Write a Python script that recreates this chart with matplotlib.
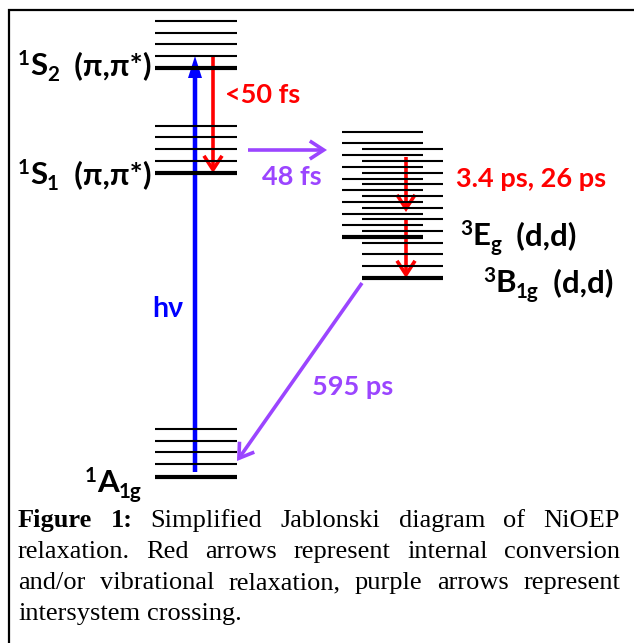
import matplotlib
matplotlib.use("Agg")
import matplotlib.pyplot as plt
from matplotlib.patches import FancyArrowPatch

# canvas in pixels (y grows downwards, like the picture)
W, H = 634, 643
SANS = ["Lato", "DejaVu Sans"]
SERIF = ["Liberation Serif", "DejaVu Serif"]
RED = "#ff0000"
BLUE = "#0000ff"
PURPLE = "#9b45ff"

# energy levels (pixel rows); the last one of each list is the bold v=0 level
S2_LEVELS = [21, 33, 44, 56, 68]
S1_LEVELS = [126, 137, 149, 161, 173]
A1G_LEVELS = [429, 441, 452, 464, 477]
EG_LEVELS = [132, 143, 155, 167, 179, 190, 202, 214, 225, 237]
B1G_LEVELS = [149, 161, 173, 184, 196, 208, 219, 231, 243, 254, 266, 278]

SINGLET_X = (155, 237)
EG_X = (342, 423)
B1G_X = (362, 443)

CAPTION_LINES = [
    "Figure 1: Simplified Jablonski diagram of NiOEP",
    "relaxation. Red arrows represent internal conversion",
    "and/or vibrational relaxation, purple arrows represent",
    "intersystem crossing.",
]
CAPTION_BOLD = 2  # "Figure 1:" is bold

fig = plt.figure(figsize=(W / 100, H / 100), dpi=100)
ax = fig.add_axes([0, 0, 1, 1])
ax.set_xlim(0, W)
ax.set_ylim(H, 0)
ax.axis("off")
renderer = fig.canvas.get_renderer()

# frame (only top and left sides are inside the picture)
ax.plot([9, 9, W], [H, 10, 10], color="black", lw=1.6, solid_joinstyle="miter")


def draw_levels(levels, xs):
    for i, y in enumerate(levels):
        bold = i == len(levels) - 1
        ax.plot(xs, [y, y], color="black", lw=3.0 if bold else 1.5, solid_capstyle="butt")


draw_levels(S2_LEVELS, SINGLET_X)
draw_levels(S1_LEVELS, SINGLET_X)
draw_levels(A1G_LEVELS, SINGLET_X)
draw_levels(EG_LEVELS, EG_X)
draw_levels(B1G_LEVELS, B1G_X)


def open_arrow(p0, p1, color, lw=2.6):
    ax.add_patch(FancyArrowPatch(p0, p1, arrowstyle="->,head_length=10,head_width=6.5",
                                 mutation_scale=1, lw=lw, color=color,
                                 shrinkA=0, shrinkB=0, capstyle="butt", joinstyle="miter"))


# excitation
ax.arrow(195, 472, 0, S2_LEVELS[-2] - 472, width=4.5, head_width=14, head_length=22,
         length_includes_head=True, color=BLUE, lw=0)
# internal conversion / vibrational relaxation
open_arrow((213, S2_LEVELS[-2]), (213, S1_LEVELS[-1]), RED)
open_arrow((406, 157), (406, 212), RED)
open_arrow((406, 220), (406, B1G_LEVELS[-1]), RED)
# intersystem crossing
open_arrow((248, 150), (327, 150), PURPLE)
open_arrow((B1G_X[0], 283), (SINGLET_X[1], 461), PURPLE)


def rich(x, y, pieces, size, color="black"):
    px = size * 100 / 72
    for txt, scale, shift in pieces:
        t = ax.text(x, y - shift * px, txt, fontsize=size * scale, fontweight="bold",
                    color=color, family=SANS, ha="left", va="baseline")
        x += t.get_window_extent(renderer).width


LS = 22.5   # state labels
TS = 19.5   # time constants
SUP, SUB = (.66, .32), (.66, -.2)
rich(18, 75, [("1", *SUP), ("S", 1, 0), ("2", *SUB), ("  (π,π*)", 1, 0)], LS)
rich(18, 184, [("1", *SUP), ("S", 1, 0), ("1", *SUB), ("  (π,π*)", 1, 0)], LS)
rich(85, 492, [("1", *SUP), ("A", 1, 0), ("1g", *SUB)], LS)
rich(460, 245, [("3", *SUP), ("E", 1, 0), ("g", *SUB), ("  (d,d)", 1, 0)], LS)
rich(483, 292, [("3", *SUP), ("B", 1, 0), ("1g", *SUB), ("  (d,d)", 1, 0)], LS)
rich(152, 317, [("hν", 1, 0)], TS + 1, BLUE)
rich(225, 103, [("<50 fs", 1, 0)], TS, RED)
rich(262, 185, [("48 fs", 1, 0)], TS, PURPLE)
rich(456, 187, [("3.4 ps, 26 ps", 1, 0)], TS, RED)
rich(312, 395, [("595 ps", 1, 0)], TS, PURPLE)

# caption, justified between two margins except the last line
CAP_SIZE = 19
LEFT, RIGHT = 18, 620
baselines = [527, 558, 589, 620]
count = 0
for n, (line, yb) in enumerate(zip(CAPTION_LINES, baselines)):
    words = line.split()
    texts = []
    for w in words:
        texts.append(ax.text(0, yb, w, fontsize=CAP_SIZE, family=SERIF, ha="left",
                             va="baseline", fontweight="bold" if count < CAPTION_BOLD else "normal"))
        count += 1
    widths = [t.get_window_extent(renderer).width for t in texts]
    if n < len(CAPTION_LINES) - 1:
        gap = (RIGHT - LEFT - sum(widths)) / (len(words) - 1)
    else:
        gap = CAP_SIZE * 100 / 72 * 0.25
    x = LEFT
    for t, w in zip(texts, widths):
        t.set_x(x)
        x += w + gap

fig.savefig("out.png", dpi=100)
